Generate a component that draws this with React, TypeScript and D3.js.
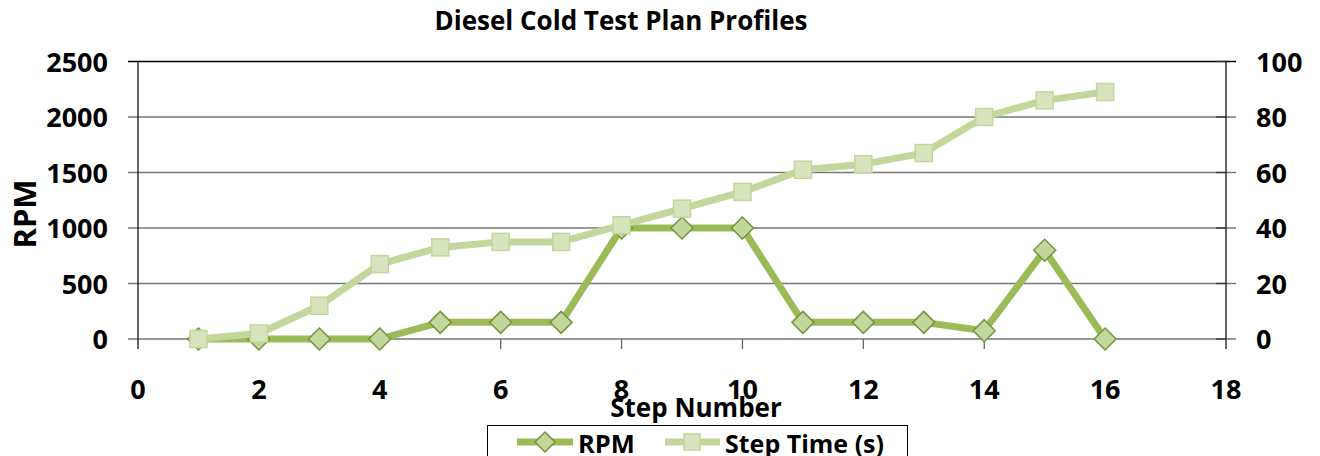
import React from "react";
import * as d3 from "d3";

const steps = [1, 2, 3, 4, 5, 6, 7, 8, 9, 10, 11, 12, 13, 14, 15, 16];
const rpm = [0, 0, 0, 0, 150, 150, 150, 1000, 1000, 1000, 150, 150, 150, 75, 800, 0];
const stepTime = [0, 2, 12, 27, 33, 35, 35, 41, 47, 53, 61, 63, 67, 80, 86, 89];
const xTicks = [0, 2, 4, 6, 8, 10, 12, 14, 16, 18];
const leftTicks = [0, 500, 1000, 1500, 2000, 2500];
const rightTicks = [0, 20, 40, 60, 80, 100];

const FONT = "'Open Sans', sans-serif";

export default function App() {
  const W = 1320, H = 456;
  const L = 138, R = 1226, T = 61.5, B = 339;
  const x = d3.scaleLinear().domain([0, 18]).range([L, R]);
  const yL = d3.scaleLinear().domain([0, 2500]).range([B, T]);
  const yR = d3.scaleLinear().domain([0, 100]).range([B, T]);

  const rpmLine = d3.line<number>().x((_, i) => x(steps[i])).y((d) => yL(d))(rpm) || "";
  const stLine = d3.line<number>().x((_, i) => x(steps[i])).y((d) => yR(d))(stepTime) || "";

  const diamond = (cx: number, cy: number, r = 11) =>
    `M${cx},${cy - r}L${cx + r},${cy}L${cx},${cy + r}L${cx - r},${cy}Z`;

  return (
    <div style={{ position: "fixed", left: 0, top: 0 }}>
      <svg width={W} height={H} style={{ display: "block", background: "#fff" }}>
        <text x={621} y={30} textAnchor="middle" fontFamily={FONT} fontWeight={700} fontSize={26} fill="#000">
          Diesel Cold Test Plan Profiles
        </text>

        {/* gridlines */}
        {leftTicks.map((t) => (
          <line key={"g" + t} x1={L - 10} x2={R + 10} y1={yL(t)} y2={yL(t)}
            stroke={t === 2500 ? "#000" : "#777"} strokeWidth={1.3} />
        ))}
        {/* axes */}
        <line x1={L} x2={L} y1={T} y2={B + 10} stroke="#000" strokeWidth={1.2} />
        <line x1={R} x2={R} y1={T} y2={B + 10} stroke="#000" strokeWidth={1.2} />
        {xTicks.map((t) => (
          <line key={"xt" + t} x1={x(t)} x2={x(t)} y1={B} y2={B + 10} stroke="#666" strokeWidth={1.3} />
        ))}
        {rightTicks.map((t) => (
          <line key={"rt" + t} x1={R - 10} x2={R} y1={yR(t)} y2={yR(t)} stroke="#333" strokeWidth={1.3} />
        ))}

        {/* tick labels */}
        {leftTicks.map((t) => (
          <text key={"ll" + t} x={108} y={yL(t) + 10} textAnchor="end" fontFamily={FONT} fontWeight={700} fontSize={27} fill="#000">
            {t}
          </text>
        ))}
        {rightTicks.map((t) => (
          <text key={"rl" + t} x={1256} y={yR(t) + 10} textAnchor="start" fontFamily={FONT} fontWeight={700} fontSize={27} fill="#000">
            {t}
          </text>
        ))}
        {xTicks.map((t) => (
          <text key={"xl" + t} x={x(t)} y={399} textAnchor="middle" fontFamily={FONT} fontWeight={700} fontSize={27} fill="#000">
            {t}
          </text>
        ))}

        <text transform={`translate(36,214) rotate(-90)`} textAnchor="middle" fontFamily={FONT} fontWeight={700} fontSize={31} fill="#000">
          RPM
        </text>
        <text x={696} y={417} textAnchor="middle" fontFamily={FONT} fontWeight={700} fontSize={26} fill="#000">
          Step Number
        </text>

        {/* series */}
        <path d={rpmLine} fill="none" stroke="#9BBB59" strokeWidth={7} strokeLinejoin="round" />
        {rpm.map((v, i) => (
          <path key={"d" + i} d={diamond(x(steps[i]), yL(v))} fill="#C3D69B" stroke="#77933C" strokeWidth={1.5} />
        ))}
        <path d={stLine} fill="none" stroke="#C3D69B" strokeWidth={7} strokeLinejoin="round" />
        {stepTime.map((v, i) => (
          <rect key={"s" + i} x={x(steps[i]) - 8.5} y={yR(v) - 8.5} width={17} height={17}
            fill="#D7E4BD" stroke="#C3D69B" strokeWidth={1.5} />
        ))}

        {/* legend */}
        <rect x={487.5} y={425.5} width={420} height={40} fill="#fff" stroke="#000" strokeWidth={1} />
        <line x1={517} x2={573} y1={442} y2={442} stroke="#9BBB59" strokeWidth={7} />
        <path d={diamond(545, 442, 10)} fill="#C3D69B" stroke="#77933C" strokeWidth={1.5} />
        <text x={578} y={453} fontFamily={FONT} fontWeight={700} fontSize={25.5} fill="#000">RPM</text>
        <line x1={665} x2={720} y1={442} y2={442} stroke="#C3D69B" strokeWidth={7} />
        <rect x={684} y={434} width={16} height={16} fill="#D7E4BD" stroke="#C3D69B" strokeWidth={1.5} />
        <text x={725} y={453} fontFamily={FONT} fontWeight={700} fontSize={25} fill="#000">Step Time (s)</text>
      </svg>
    </div>
  );
}
